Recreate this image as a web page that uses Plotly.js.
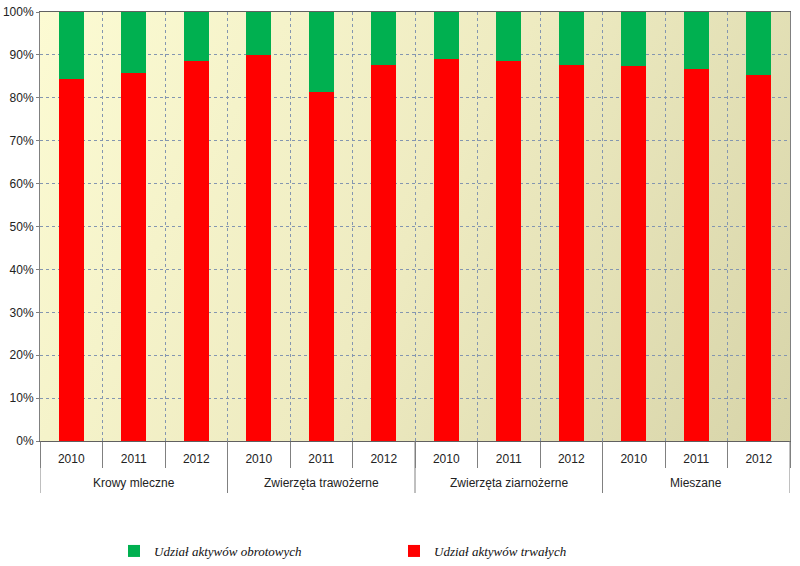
<!DOCTYPE html>
<html><head><meta charset="utf-8">
<script src="https://cdn.plot.ly/plotly-3.0.1.min.js"></script>
<style>html,body{margin:0;padding:0;background:#fff}#chart{width:800px;height:566px}</style>
</head><body><div id="chart"></div>
<script>
const groups = ["Krowy mleczne", "Zwierzęta trawożerne", "Zwierzęta ziarnożerne", "Mieszane"];
const years = ["2010", "2011", "2012"];
const trwale = [84.5, 85.8, 88.5, 90.0, 81.3, 87.6, 89.0, 88.5, 87.6, 87.3, 86.7, 85.3];
const obrotowe = [15.5, 14.2, 11.5, 10.0, 18.7, 12.4, 11.0, 11.5, 12.4, 12.7, 13.3, 14.7];
const seriesNames = ["Udział aktywów trwałych", "Udział aktywów obrotowych"];

// category positions on the axis
const xIdx = [], yearText = [];
groups.forEach((g, gi) => years.forEach((y, yi) => { xIdx.push(gi * years.length + yi); yearText.push(y); }));
const nCat = xIdx.length;

// gradient background image
const cv = document.createElement('canvas');
cv.width = 750; cv.height = 429;
const ctx = cv.getContext('2d');
const gr = ctx.createLinearGradient(0, 0, 750, 429);
gr.addColorStop(0, '#fcfbd3');
gr.addColorStop(0.5, '#eeebc1');
gr.addColorStop(1, '#d7d4a9');
ctx.fillStyle = gr; ctx.fillRect(0, 0, 750, 429);
const bg = cv.toDataURL();

const font = "Liberation Sans Narrow, Arial Narrow, Liberation Sans, Arial, sans-serif";
const lineCol = '#808080';
const gridCol = '#8496b0';
const plotH = 429;

const shapes = [];
for (let k = 0; k <= groups.length; k++) {
  const xv = k * years.length - 0.5;
  shapes.push({type: 'line', xref: 'x', yref: 'paper', x0: xv, x1: xv, y0: 0, y1: -52 / plotH,
               line: {color: lineCol, width: 1}});
}
const annotations = groups.map((g, gi) => ({
  text: g, xref: 'x', yref: 'paper', x: gi * years.length + (years.length - 1) / 2,
  y: -42 / plotH, yanchor: 'middle', xanchor: 'center', showarrow: false,
  font: {family: font, size: 12, color: '#222'}
}));

const data = [
  {type: 'bar', name: seriesNames[0], x: xIdx, y: trwale, marker: {color: '#ff0000'}},
  {type: 'bar', name: seriesNames[1], x: xIdx, y: obrotowe, marker: {color: '#00b050'}}
];
const layout = {
  width: 800, height: 566,
  margin: {l: 40, r: 10, t: 12, b: 125},
  paper_bgcolor: '#ffffff', plot_bgcolor: 'rgba(0,0,0,0)',
  barmode: 'stack', bargap: 0.6,
  font: {family: font, size: 12, color: '#222'},
  images: [{source: bg, xref: 'paper', yref: 'paper', x: 0, y: 1, sizex: 1, sizey: 1, sizing: 'stretch', layer: 'below'}],
  shapes: shapes,
  annotations: annotations,
  xaxis: {
    range: [-0.5, nCat - 0.5], showline: true, linecolor: '#606060', linewidth: 1, mirror: true,
    tickmode: 'array', tickvals: xIdx, ticktext: yearText,
    ticks: 'outside', ticklen: 7, tickcolor: 'rgba(0,0,0,0)', showgrid: false, zeroline: false,
    minor: {tick0: 0.5, dtick: 1, ticks: 'outside', ticklen: 26, tickcolor: lineCol, tickwidth: 1,
            showgrid: true, gridcolor: gridCol, griddash: 'dot', gridwidth: 1},
    tickfont: {family: font, size: 12, color: '#222'}
  },
  yaxis: {
    range: [0, 100], dtick: 10, ticksuffix: '%',
    showline: true, linecolor: lineCol, linewidth: 1, mirror: true,
    showgrid: true, gridcolor: gridCol, griddash: 'dot', gridwidth: 1,
    ticks: 'outside', ticklen: 3, tickcolor: lineCol, zeroline: false,
    tickfont: {family: font, size: 12, color: '#222'}
  },
  legend: {
    orientation: 'h', traceorder: 'reversed', xref: 'container', yref: 'container',
    x: 0.1425, xanchor: 'left', y: 15 / 566, yanchor: 'middle',
    entrywidth: 235, entrywidthmode: 'pixels', itemwidth: 30,
    font: {family: 'Liberation Serif, Times New Roman, serif', size: 13, style: 'italic', color: '#111'}
  }
};
Plotly.newPlot('chart', data, layout, {displayModeBar: false});
</script></body></html>
